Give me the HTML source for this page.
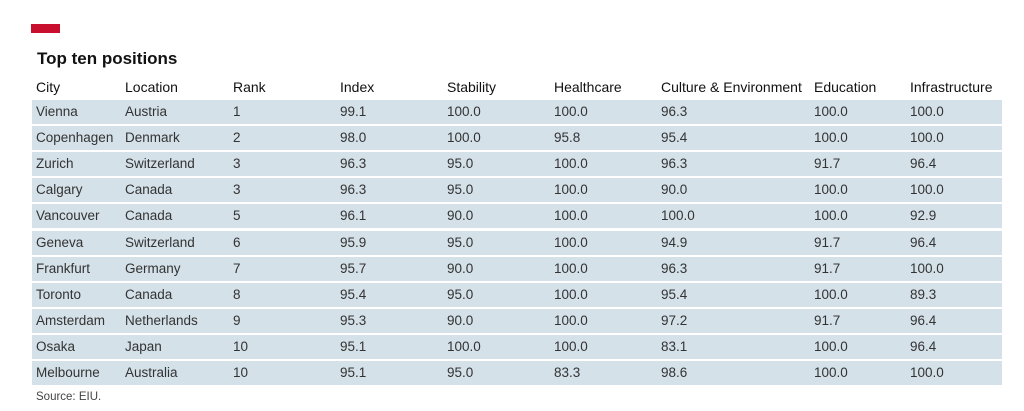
<!DOCTYPE html>
<html><head><style>
body{margin:0;width:1024px;height:411px;background:#fff;font-family:"Liberation Sans",sans-serif;position:relative;overflow:hidden;color:#333}
.red{position:absolute;left:31px;top:24px;width:29px;height:9px;background:#c8102e}
.t{position:absolute;left:37px;top:49px;font-size:17px;font-weight:bold;color:#111}
.r{position:absolute;left:32px;width:970px;height:24px;background:#d4e1e9}
.c{position:absolute;font-size:13.5px;white-space:nowrap;line-height:16px}
.h{color:#111;font-size:14px}
.s{position:absolute;left:36px;top:391px;font-size:11.5px;color:#444}
</style></head><body>
<div class="red"></div>
<div class="t">Top ten positions</div>
<div id="t"></div>
<div class="s">Source: EIU.</div>
<script>
var xs=[36,125,233,340,447,554,661,814,910];
var H=["City","Location","Rank","Index","Stability","Healthcare","Culture &amp; Environment","Education","Infrastructure"];
var D=[
["Vienna","Austria","1","99.1","100.0","100.0","96.3","100.0","100.0"],
["Copenhagen","Denmark","2","98.0","100.0","95.8","95.4","100.0","100.0"],
["Zurich","Switzerland","3","96.3","95.0","100.0","96.3","91.7","96.4"],
["Calgary","Canada","3","96.3","95.0","100.0","90.0","100.0","100.0"],
["Vancouver","Canada","5","96.1","90.0","100.0","100.0","100.0","92.9"],
["Geneva","Switzerland","6","95.9","95.0","100.0","94.9","91.7","96.4"],
["Frankfurt","Germany","7","95.7","90.0","100.0","96.3","91.7","100.0"],
["Toronto","Canada","8","95.4","95.0","100.0","95.4","100.0","89.3"],
["Amsterdam","Netherlands","9","95.3","90.0","100.0","97.2","91.7","96.4"],
["Osaka","Japan","10","95.1","100.0","100.0","83.1","100.0","96.4"],
["Melbourne","Australia","10","95.1","95.0","83.3","98.6","100.0","100.0"]];
var h="";
H.forEach(function(v,i){h+='<div class="c h" style="left:'+xs[i]+'px;top:79px">'+v+'</div>';});
D.forEach(function(r,j){var cy=112+j*26.1;h+='<div class="r" style="top:'+(cy-12)+'px"></div>';
r.forEach(function(v,i){h+='<div class="c" style="left:'+xs[i]+'px;top:'+(cy-8)+'px">'+v+'</div>';});});
document.getElementById("t").innerHTML=h;
</script>
</body></html>
